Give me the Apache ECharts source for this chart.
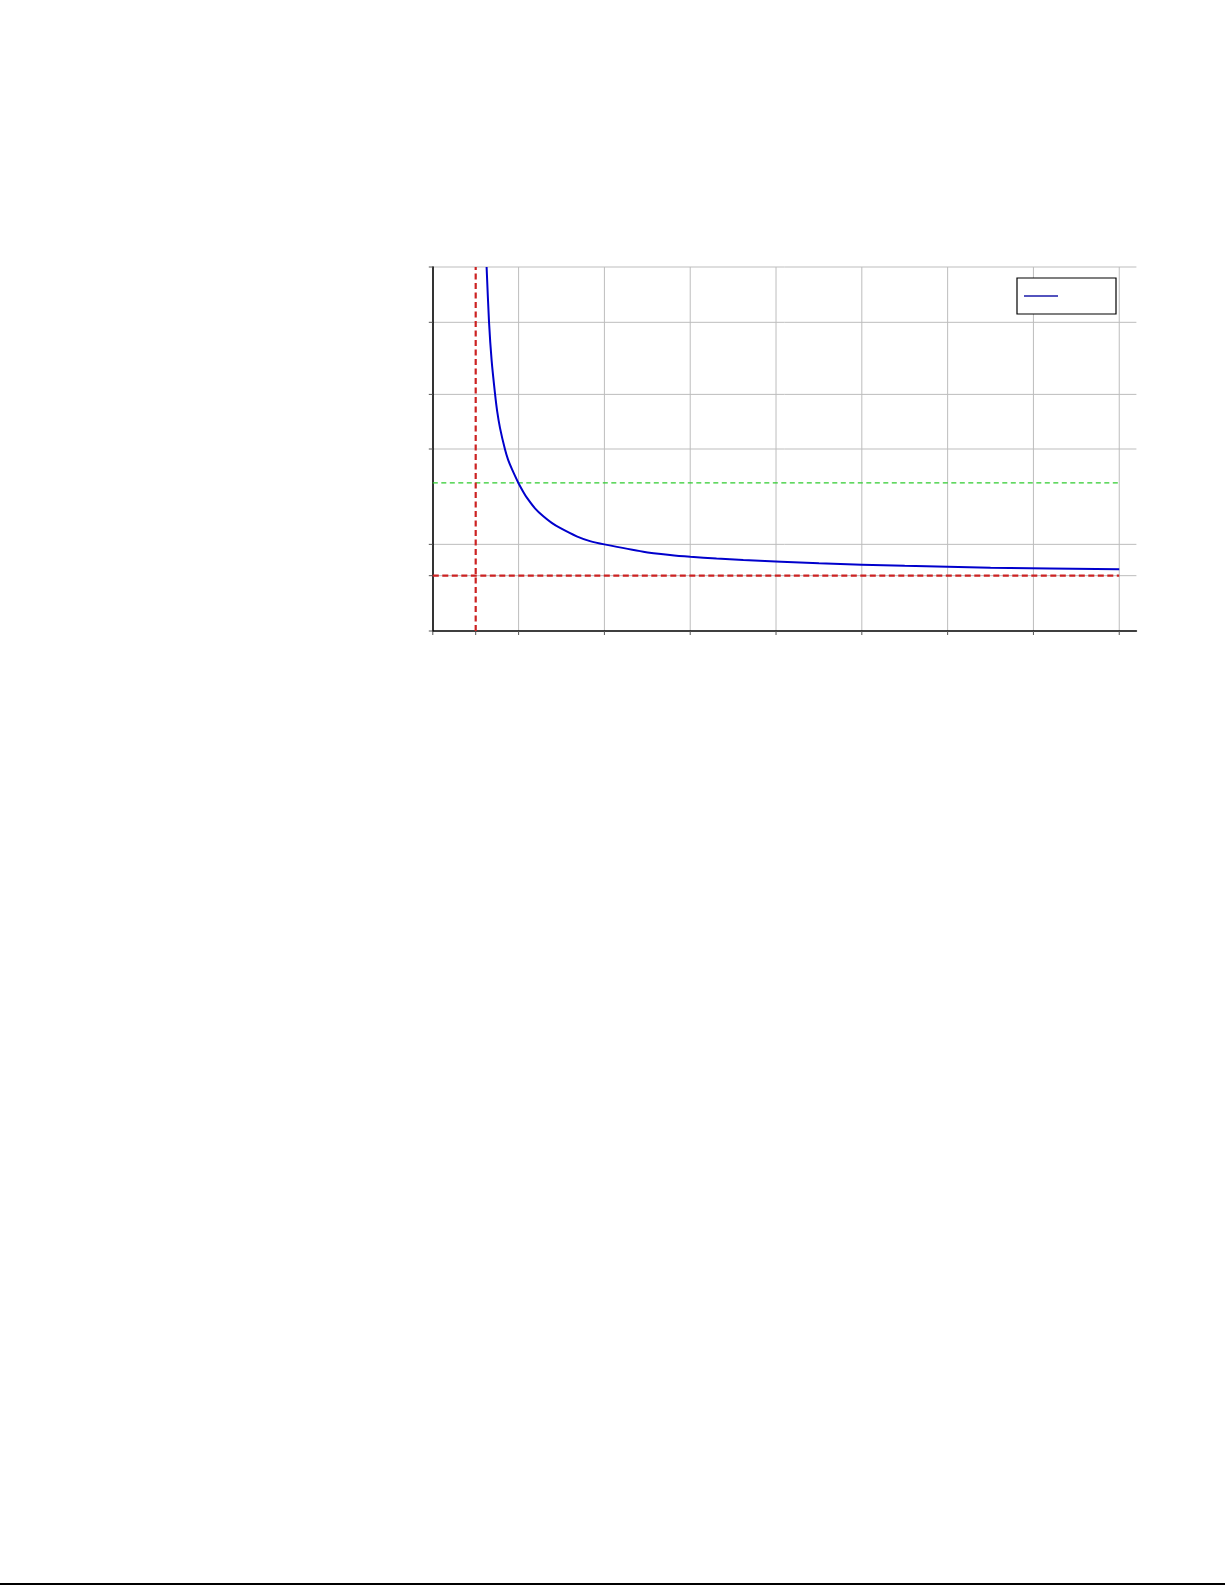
<!DOCTYPE html>
<html>
<head>
<meta charset="utf-8">
<script src="https://cdn.jsdelivr.net/npm/echarts@6/dist/echarts.min.js"></script>
<style>
  html, body { margin: 0; padding: 0; background: #ffffff; }
  #chart { width: 1225px; height: 1585px; }
  #pageEdge { position: absolute; left: 0; top: 1583px; width: 1225px; height: 2px; background: #000; }
</style>
</head>
<body>
<div id="chart"></div>
<div id="pageEdge"></div>
<script>
// ---- data ----
var xTicks = [0, 0.5, 1, 2, 3, 4, 5, 6, 7, 8];
var xGrid = [1, 2, 3, 4, 5, 6, 7, 8];
var yTicks = [0, 0.152, 0.238, 0.5, 0.65, 0.848, 1];
var yGrid = [0.152, 0.238, 0.5, 0.65, 0.848, 1];

var curveX = [0.627, 0.655, 0.686, 0.725, 0.750, 0.783, 0.841, 0.878, 0.920, 0.999, 1.055, 1.094, 1.191, 1.288, 1.386, 1.483, 1.677, 1.832, 1.999, 2.453, 2.765, 3.001, 3.307, 3.619, 4.5, 5.5, 6.5, 8.0];
var curveY = [1.000, 0.850, 0.742, 0.652, 0.604, 0.558, 0.499, 0.470, 0.446, 0.406, 0.382, 0.367, 0.337, 0.315, 0.297, 0.283, 0.260, 0.247, 0.238, 0.218, 0.209, 0.204, 0.199, 0.195, 0.186, 0.179, 0.174, 0.1695];

var asymptoteX = 0.5;
var asymptoteY = 0.152;
var thresholdY = 0.407;
var xMin = 0, xMax = 8.2, yMin = 0, yMax = 1;
var lineEndX = 8;

var curveData = curveX.map(function (x, i) { return [x, curveY[i]]; });

var chart = echarts.init(document.getElementById('chart'), null, { renderer: 'canvas' });

function hGridItem(params, api) {
  var v = api.value(0);
  var p0 = api.coord([xMin, v]);
  var p1 = api.coord([xMax, v]);
  return { type: 'line', shape: { x1: p0[0], y1: p0[1], x2: p1[0], y2: p1[1] },
    style: { stroke: '#bdbdbd', lineWidth: 1 } };
}
function vGridItem(params, api) {
  var v = api.value(0);
  var p0 = api.coord([v, yMin]);
  var p1 = api.coord([v, yMax]);
  return { type: 'line', shape: { x1: p0[0], y1: p0[1], x2: p1[0], y2: p1[1] },
    style: { stroke: '#bdbdbd', lineWidth: 1 } };
}
function yTickItem(params, api) {
  var p = api.coord([xMin, api.value(0)]);
  return { type: 'line', shape: { x1: p[0] - 4, y1: p[1], x2: p[0], y2: p[1] },
    style: { stroke: '#555555', lineWidth: 1 } };
}
function xTickItem(params, api) {
  var p = api.coord([api.value(0), yMin]);
  return { type: 'line', shape: { x1: p[0], y1: p[1], x2: p[0], y2: p[1] + 4 },
    style: { stroke: '#555555', lineWidth: 1 } };
}

var option = {
  animation: false,
  backgroundColor: '#ffffff',
  grid: { left: 432.8, top: 267, right: 88.6, bottom: 954, containLabel: false },
  xAxis: {
    type: 'value', min: xMin, max: xMax,
    axisLine: { onZero: false, lineStyle: { color: '#000000', width: 1.6 } },
    axisTick: { show: false }, axisLabel: { show: false }, splitLine: { show: false }
  },
  yAxis: {
    type: 'value', min: yMin, max: yMax,
    axisLine: { show: true, onZero: false, lineStyle: { color: '#000000', width: 1.6 } },
    axisTick: { show: false }, axisLabel: { show: false }, splitLine: { show: false }
  },
  legend: {
    left: 1017, top: 278,
    orient: 'vertical',
    padding: [8, 8, 8, 7],
    borderColor: '#000000', borderWidth: 1.2, borderRadius: 0,
    backgroundColor: '#ffffff',
    itemWidth: 34, itemHeight: 1.4, itemGap: 0,
    data: [{ name: 'y', icon: 'rect', itemStyle: { color: '#1a1aa8' } }],
    formatter: function () { return ' '; },
    textStyle: { width: 45, fontSize: 12, lineHeight: 20, color: '#000' }
  },
  series: [
    { type: 'custom', name: 'hgrid', data: yGrid, renderItem: hGridItem, clip: false, z: 0, silent: true },
    { type: 'custom', name: 'vgrid', data: xGrid, renderItem: vGridItem, clip: false, z: 0, silent: true },
    { type: 'custom', name: 'yticks', data: yTicks, renderItem: yTickItem, clip: false, z: 1, silent: true },
    { type: 'custom', name: 'xticks', data: xTicks, renderItem: xTickItem, clip: false, z: 1, silent: true },
    {
      type: 'line', name: 'threshold', symbol: 'none', silent: true, z: 3,
      data: [[xMin, thresholdY], [lineEndX, thresholdY]],
      lineStyle: { color: '#2ecc2e', width: 1.4, type: [5, 3.5] }
    },
    {
      type: 'line', name: 'asymH', symbol: 'none', silent: true, z: 3,
      data: [[xMin, asymptoteY], [lineEndX, asymptoteY]],
      lineStyle: { color: '#cc2222', width: 2.2, type: [6, 3.5] }
    },
    {
      type: 'line', name: 'asymV', symbol: 'none', silent: true, z: 3,
      data: [[asymptoteX, yMin], [asymptoteX, yMax]],
      lineStyle: { color: '#cc2222', width: 2.2, type: [6, 3.5] }
    },
    {
      type: 'line', name: 'y', symbol: 'none', showSymbol: false, z: 4,
      smooth: 0.25,
      data: curveData,
      itemStyle: { color: '#0000cc' },
      lineStyle: { color: '#0000cc', width: 2 }
    }
  ]
};
chart.setOption(option);
</script>
</body>
</html>
